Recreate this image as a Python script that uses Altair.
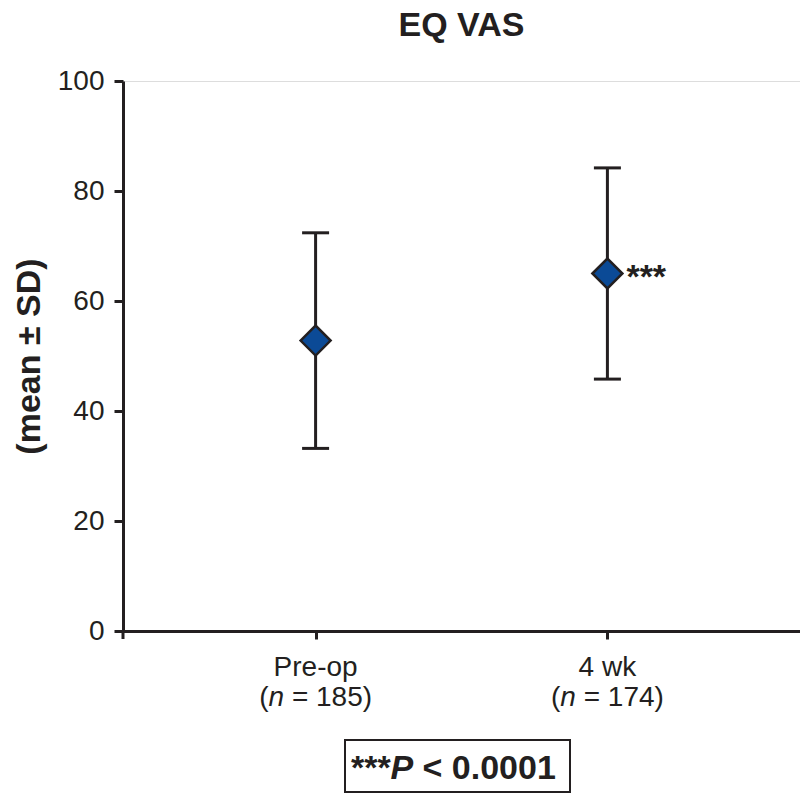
import altair as alt
import pandas as pd

groups = ["Pre-op", "4 wk"]
n_values = [185, 174]
means = [52.8, 65.0]
sds = [19.6, 19.2]
sig_marks = ["", "***"]

df = pd.DataFrame({
    "group": groups,
    "n": n_values,
    "mean": means,
    "sd": sds,
    "sig": sig_marks,
})

INK = "#231f20"
FONT = "Liberation Sans"
W, H = 677, 550

base = alt.Chart(df).transform_calculate(
    lower="datum.mean - datum.sd",
    upper="datum.mean + datum.sd",
    nlabel="'= ' + datum.n + ')'",
)

xenc = alt.X(
    "group:N",
    sort=groups,
    scale=alt.Scale(type="point", padding=0.66),
    axis=alt.Axis(labels=False, title=None, ticks=True, tickSize=8, tickWidth=3,
                  tickColor=INK, domainWidth=3, domainColor=INK),
)
yscale = alt.Scale(domain=[0, 100])

rules = base.mark_rule(color=INK, strokeWidth=3).encode(
    x=xenc,
    y=alt.Y("lower:Q", scale=yscale,
            axis=alt.Axis(values=[0, 20, 40, 60, 80, 100], grid=False,
                          title="(mean ± SD)", titleFont=FONT, titleFontSize=34,
                          titleFontWeight="bold", titleColor=INK, titlePadding=11,
                          labelFont=FONT, labelFontSize=28, labelColor=INK,
                          labelPadding=10, tickSize=9, tickWidth=3, tickColor=INK,
                          domainWidth=3, domainColor=INK)),
    y2="upper:Q",
)

caps_hi = base.mark_tick(color=INK, thickness=3, size=27, opacity=1).encode(
    x=xenc, y=alt.Y("upper:Q", scale=yscale)
)
caps_lo = base.mark_tick(color=INK, thickness=3, size=27, opacity=1).encode(
    x=xenc, y=alt.Y("lower:Q", scale=yscale)
)

points = base.mark_point(shape="diamond", filled=True, size=900, fill="#0b4a96",
                         stroke=INK, strokeWidth=2.5, opacity=1).encode(
    x=xenc, y=alt.Y("mean:Q", scale=yscale)
)

stars = base.mark_text(font=FONT, fontSize=34, fontWeight="bold", color=INK,
                       align="left", baseline="alphabetic", dx=19, dy=14).encode(
    x=xenc, y=alt.Y("mean:Q", scale=yscale), text="sig:N"
)

lab1 = base.mark_text(font=FONT, fontSize=28, color=INK, align="center",
                      baseline="alphabetic").encode(
    x=xenc, y=alt.value(595), text="group:N"
)
lab_open = base.mark_text(font=FONT, fontSize=28, color=INK, align="right",
                          baseline="alphabetic", dx=-47.1, text="(").encode(
    x=xenc, y=alt.value(625)
)
lab_n = base.mark_text(font=FONT, fontSize=28, color=INK, align="left",
                       fontStyle="italic", baseline="alphabetic", dx=-47.1, text="n").encode(
    x=xenc, y=alt.value(625)
)
lab_rest = base.mark_text(font=FONT, fontSize=28, color=INK, align="left",
                          baseline="alphabetic", dx=-23.7).encode(
    x=xenc, y=alt.value(625), text="nlabel:N"
)

origin_tick = alt.Chart(df.head(1)).mark_rule(color=INK, strokeWidth=3).encode(
    x=alt.value(0), y=alt.value(H), y2=alt.value(H + 8)
)

box = alt.Chart(df.head(1)).mark_rect(fill="white", stroke=INK, strokeWidth=2).encode(
    x=alt.value(222), x2=alt.value(447), y=alt.value(659), y2=alt.value(711)
)
p1 = alt.Chart(df.head(1)).mark_text(font=FONT, fontSize=34, fontWeight="bold", color=INK,
                                      align="left", baseline="alphabetic", text="***").encode(
    x=alt.value(228), y=alt.value(698)
)
p2 = alt.Chart(df.head(1)).mark_text(font=FONT, fontSize=34, fontWeight="bold", fontStyle="italic",
                                      color=INK, align="left", baseline="alphabetic", text="P").encode(
    x=alt.value(267.5), y=alt.value(698)
)
p3 = alt.Chart(df.head(1)).mark_text(font=FONT, fontSize=34, fontWeight="bold", color=INK,
                                      align="left", baseline="alphabetic", text="< 0.0001").encode(
    x=alt.value(299.5), y=alt.value(698)
)

chart = alt.layer(
    rules, caps_hi, caps_lo, points, stars, lab1, lab_open, lab_n, lab_rest,
    origin_tick, box, p1, p2, p3
).properties(
    width=W, height=H,
    title=alt.TitleParams("EQ VAS", font=FONT, fontSize=34, fontWeight="bold",
                          color=INK, anchor="middle", offset=24),
    autosize=alt.AutoSizeParams(type="none"),
    padding={"left": 123, "top": 81, "right": 0, "bottom": 164},
).configure_view(stroke=None).configure(background="white")

chart.save("out.html", embed_options={"renderer": "svg", "actions": False})
